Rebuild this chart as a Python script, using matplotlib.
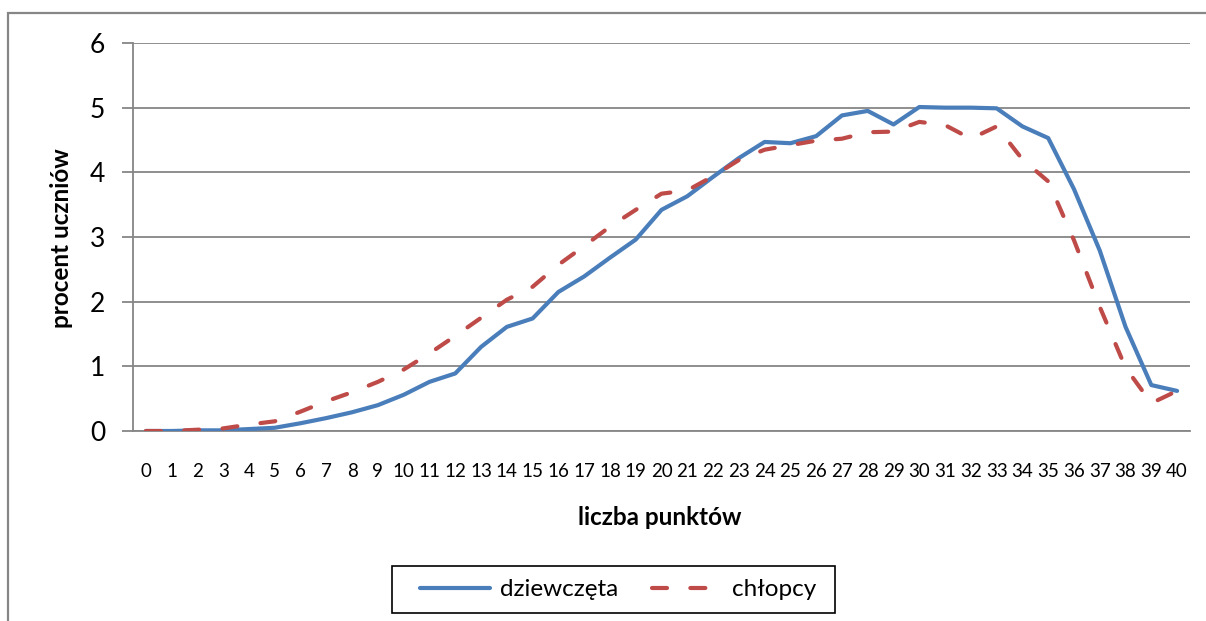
import matplotlib
matplotlib.use("Agg")
import matplotlib.pyplot as plt
from matplotlib.patches import Rectangle
from matplotlib.lines import Line2D

plt.rcParams['font.family'] = ['Lato', 'DejaVu Sans']

points = list(range(0, 41))
dziewczeta = [0.0, 0.0, 0.01, 0.01, 0.03, 0.05, 0.12, 0.2, 0.29, 0.4, 0.56, 0.76, 0.89, 1.3,
              1.61, 1.74, 2.15, 2.39, 2.68, 2.96, 3.42, 3.63, 3.93, 4.22, 4.47, 4.45, 4.56,
              4.88, 4.95, 4.74, 5.01, 5.0, 5.0, 4.99, 4.71, 4.53, 3.74, 2.79, 1.61, 0.71, 0.62]
chlopcy = [0.0, 0.0, 0.02, 0.04, 0.1, 0.15, 0.3, 0.46, 0.6, 0.76, 0.95, 1.2, 1.47, 1.75,
           2.03, 2.23, 2.57, 2.86, 3.16, 3.42, 3.67, 3.72, 3.94, 4.19, 4.35, 4.42, 4.49,
           4.52, 4.62, 4.63, 4.78, 4.73, 4.52, 4.71, 4.2, 3.86, 2.95, 1.92, 0.98, 0.43, 0.62]
y_ticks = [0, 1, 2, 3, 4, 5, 6]

W, H = 1206, 621
fig = plt.figure(figsize=(W / 100, H / 100), dpi=100)

# outer chart border
fig.patches.append(Rectangle((8 / W, -0.2), 1.2, 1 - 13 / H + 0.2, transform=fig.transFigure,
                             fill=False, edgecolor='#868686', linewidth=1.6, zorder=0))

ax_left, ax_right, ax_top, ax_bottom = 133, 1190, 43, 431
ax = fig.add_axes([ax_left / W, (H - ax_bottom) / H, (ax_right - ax_left) / W,
                   (ax_bottom - ax_top) / H])
ax.set_xlim(-0.5, 40.5)
ax.set_ylim(0, 6)

ax.plot(points, dziewczeta, color='#4A7EBB', linewidth=3.0, solid_capstyle='round',
        solid_joinstyle='round', label='dziewczęta', zorder=3)
ax.plot(points, chlopcy, color='#BE4B48', linewidth=3.0, dashes=(3.6, 5.6),
        dash_capstyle='round', label='chłopcy', zorder=4)

ax.set_yticks(y_ticks)
ax.set_yticklabels([str(v) for v in y_ticks], fontsize=19)
ax.set_xticks(points)
ax.set_xticklabels([str(p) for p in points], fontsize=13.5)
ax.yaxis.grid(True, color='#868686', linewidth=1.3)
ax.set_axisbelow(True)
for s in ['top', 'right']:
    ax.spines[s].set_visible(False)
for s in ['left', 'bottom']:
    ax.spines[s].set_color('#868686')
    ax.spines[s].set_linewidth(1.3)
ax.tick_params(axis='y', length=8, width=1.3, color='#868686', pad=12)
ax.tick_params(axis='x', length=0, pad=23)

ax.set_xlabel('liczba punktów', fontsize=17.5, fontweight='bold')
ax.set_ylabel('procent uczniów', fontsize=17.5, fontweight='bold')
aw, ah = ax_right - ax_left, ax_bottom - ax_top
ax.xaxis.set_label_coords((660 - ax_left) / aw, (ax_bottom - 506) / ah)
ax.yaxis.set_label_coords((73 - ax_left) / aw, (ax_bottom - 238) / ah)

h1 = Line2D([], [], color='#4A7EBB', linewidth=3.0, solid_capstyle='round')
h2 = Line2D([], [], color='#BE4B48', linewidth=3.0, dashes=(3.6, 5.6), dash_capstyle='round')
leg = fig.legend([h1, h2], ['dziewczęta', 'chłopcy'], loc='center',
                 bbox_to_anchor=(618 / W, 1 - 589.5 / H), ncol=2, fontsize=17.5,
                 frameon=False, handlelength=2.9,
                 handletextpad=0.4, columnspacing=1.4, borderpad=0.35, borderaxespad=0)
# legend box
fig.patches.append(Rectangle((392 / W, 1 - 613 / H), (835 - 392) / W, (613 - 566) / H,
                             transform=fig.transFigure, fill=False, edgecolor='black',
                             linewidth=1.2, zorder=5))

fig.savefig('out.png', dpi=100)
